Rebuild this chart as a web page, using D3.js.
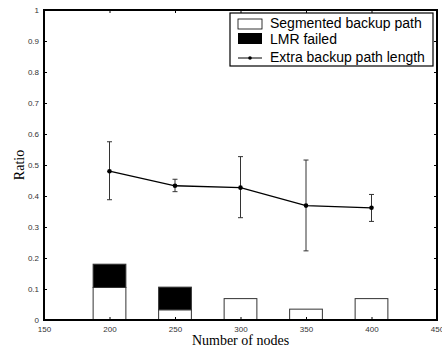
<!DOCTYPE html>
<html>
<head>
<meta charset="utf-8">
<script src="https://cdn.jsdelivr.net/npm/d3@7"></script>
<style>
  body { margin: 0; background: #fff; }
  svg { display: block; }
  .tick text { font-family: Arial, "Liberation Sans", sans-serif; font-size: 8px; fill: #333; }
</style>
</head>
<body>
<svg id="chart" width="442" height="350"></svg>
<script>
// values
const nodes = [200, 250, 300, 350, 400];
const segmented = [0.105, 0.033, 0.069, 0.035, 0.069];
const lmrFailed = [0.075, 0.073, 0, 0, 0];   // stacked on top of segmented
const extraLen = [0.48, 0.433, 0.427, 0.369, 0.362];
const errLow = [0.388, 0.414, 0.33, 0.223, 0.318];
const errHigh = [0.575, 0.454, 0.527, 0.516, 0.405];
const xTicks = [150, 200, 250, 300, 350, 400, 450];
const yTicks = [0, 0.1, 0.2, 0.3, 0.4, 0.5, 0.6, 0.7, 0.8, 0.9, 1];
const legendLabels = ["Segmented backup path", "LMR failed", "Extra backup path length"];

const margin = {top: 10, right: 5, bottom: 30, left: 44};
const W = 442, H = 350;
const svg = d3.select("#chart");

const x = d3.scaleLinear().domain([150, 450]).range([margin.left, W - margin.right]);
const y = d3.scaleLinear().domain([0, 1]).range([H - margin.bottom, margin.top]);
const barW = x(212.5) - x(187.5);

// bars
const g = svg.append("g");
nodes.forEach((n, i) => {
    g.append("rect")
        .attr("x", x(n) - barW / 2)
        .attr("y", y(segmented[i]))
        .attr("width", barW)
        .attr("height", y(0) - y(segmented[i]))
        .attr("fill", "#fff")
        .attr("stroke", "#333")
        .attr("stroke-width", 1);
    if (lmrFailed[i] > 0) {
        g.append("rect")
            .attr("x", x(n) - barW / 2)
            .attr("y", y(segmented[i] + lmrFailed[i]))
            .attr("width", barW)
            .attr("height", y(segmented[i]) - y(segmented[i] + lmrFailed[i]))
            .attr("fill", "#000")
            .attr("stroke", "#333")
            .attr("stroke-width", 1);
    }
});

// error bars
nodes.forEach((n, i) => {
    const cx = x(n);
    g.append("line").attr("x1", cx).attr("x2", cx)
        .attr("y1", y(errLow[i])).attr("y2", y(errHigh[i]))
        .attr("stroke", "#333").attr("stroke-width", 1);
    [errLow[i], errHigh[i]].forEach(v => {
        g.append("line").attr("x1", cx - 2.5).attr("x2", cx + 2.5)
            .attr("y1", y(v)).attr("y2", y(v))
            .attr("stroke", "#333").attr("stroke-width", 1);
    });
});

// line + markers
const line = d3.line().x((d, i) => x(nodes[i])).y(d => y(d));
g.append("path").datum(extraLen)
    .attr("d", line)
    .attr("fill", "none")
    .attr("stroke", "#000")
    .attr("stroke-width", 1.3);
g.selectAll("circle.pt").data(extraLen).enter().append("circle")
    .attr("class", "pt")
    .attr("cx", (d, i) => x(nodes[i]))
    .attr("cy", d => y(d))
    .attr("r", 2.3)
    .attr("fill", "#000");

// axes (ticks inward, all four sides)
const fmtY = d => d === 0 ? "0" : d === 1 ? "1" : d3.format(".1f")(d);
svg.append("g").attr("transform", `translate(0,${y(0)})`)
    .call(d3.axisBottom(x).tickValues(xTicks).tickSizeInner(-3).tickSizeOuter(0).tickPadding(6))
    .call(a => a.select(".domain").remove());
svg.append("g").attr("transform", `translate(0,${y(1)})`)
    .call(d3.axisTop(x).tickValues(xTicks).tickSizeInner(-3).tickSizeOuter(0).tickFormat(""))
    .call(a => a.select(".domain").remove());
svg.append("g").attr("transform", `translate(${x(150)},0)`)
    .call(d3.axisLeft(y).tickValues(yTicks).tickFormat(fmtY).tickSizeInner(-3).tickSizeOuter(0).tickPadding(5))
    .call(a => a.select(".domain").remove());
svg.append("g").attr("transform", `translate(${x(450)},0)`)
    .call(d3.axisRight(y).tickValues(yTicks).tickSizeInner(-3).tickSizeOuter(0).tickFormat(""))
    .call(a => a.select(".domain").remove());
svg.selectAll(".tick line").attr("stroke", "#000");

// frame
svg.append("rect")
    .attr("x", x(150)).attr("y", y(1))
    .attr("width", x(450) - x(150)).attr("height", y(0) - y(1))
    .attr("fill", "none").attr("stroke", "#000").attr("stroke-width", 2);

// axis titles
svg.append("text")
    .attr("x", (x(150) + x(450)) / 2).attr("y", 345)
    .attr("text-anchor", "middle")
    .attr("font-family", "'Liberation Serif', 'Times New Roman', serif")
    .attr("font-size", 14)
    .text("Number of nodes");
svg.append("text")
    .attr("transform", `translate(24,${(y(0) + y(1)) / 2}) rotate(-90)`)
    .attr("text-anchor", "middle")
    .attr("font-family", "'Liberation Serif', 'Times New Roman', serif")
    .attr("font-size", 14)
    .text("Ratio");

// legend
const lg = svg.append("g").attr("transform", "translate(230,13)");
lg.append("rect").attr("width", 203).attr("height", 53)
    .attr("fill", "#fff").attr("stroke", "#000").attr("stroke-width", 1.2);
lg.append("rect").attr("x", 8).attr("y", 6).attr("width", 24).attr("height", 10)
    .attr("fill", "#fff").attr("stroke", "#000").attr("stroke-width", 0.8);
lg.append("rect").attr("x", 8).attr("y", 20).attr("width", 24).attr("height", 11)
    .attr("fill", "#000");
lg.append("line").attr("x1", 8).attr("x2", 32).attr("y1", 45).attr("y2", 45)
    .attr("stroke", "#000").attr("stroke-width", 1);
lg.append("circle").attr("cx", 20).attr("cy", 45).attr("r", 1.8).attr("fill", "#000");
const rowY = [10.5, 26.5, 44];
legendLabels.forEach((t, i) => {
    lg.append("text")
        .attr("x", 40).attr("y", rowY[i]).attr("dy", "0.35em")
        .attr("font-family", "Arial, 'Liberation Sans', sans-serif")
        .attr("font-size", 14)
        .text(t);
});
</script>
</body>
</html>
